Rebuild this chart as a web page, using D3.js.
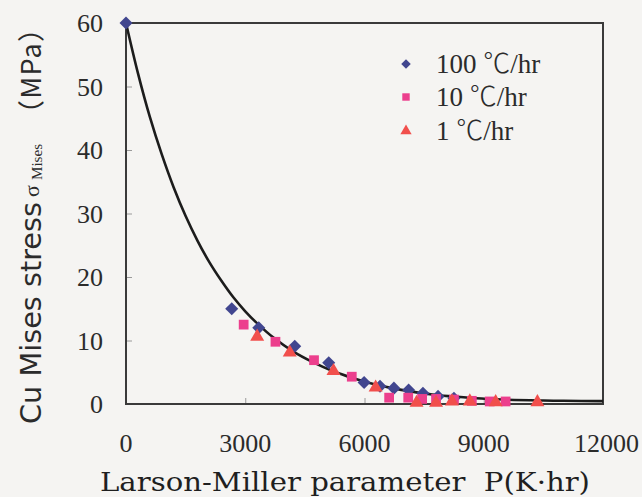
<!DOCTYPE html>
<html>
<head>
<meta charset="utf-8">
<script src="https://cdn.jsdelivr.net/npm/d3@7"></script>
<style>
  html, body { margin: 0; padding: 0; background: #f5f4f2; }
  svg { display: block; }
</style>
</head>
<body>
<svg id="chart" width="642" height="497"></svg>
<script>
// ---- data ----
const xTicks = [0, 3000, 6000, 9000, 12000];
const yTicks = [0, 10, 20, 30, 40, 50, 60];

const seriesRates = ["100", "10", "1"];
const rateUnit = "℃/hr";

const p100 = [0, 2660, 3340, 4245, 5100, 5990, 6390, 6740, 7110, 7470, 7850, 8250];
const s100 = [60, 15.0, 12.0, 9.1, 6.5, 3.4, 2.8, 2.5, 2.2, 1.7, 1.2, 0.9];

const p10 = [2960, 3760, 4730, 5680, 6620, 7100, 7450, 7800, 8250, 8700, 9150, 9550];
const s10 = [12.5, 9.8, 6.9, 4.3, 1.0, 1.0, 0.8, 0.8, 0.7, 0.5, 0.4, 0.4];

const p1 = [3300, 4120, 5220, 6280, 7310, 7800, 8200, 8650, 9300, 10350];
const s1 = [10.6, 8.1, 5.2, 2.6, 0.2, 0.2, 0.4, 0.4, 0.3, 0.3];

// master curve
const curveP = [0, 300, 600, 900, 1200, 1500, 1800, 2100, 2400, 2700, 3000, 3300, 3700, 4200, 4700, 5200, 5700, 6200, 6700, 7200, 7700, 8200, 8800, 9500, 10500, 11000, 12000];
const curveS = [60, 52.1, 45.2, 39.3, 34.1, 29.6, 25.7, 22.3, 19.4, 16.8, 14.6, 12.7, 10.5, 8.3, 6.6, 5.2, 4.1, 3.2, 2.5, 1.95, 1.5, 1.2, 0.9, 0.7, 0.55, 0.5, 0.45];

// ---- layout ----
const svg = d3.select("#chart");
const W = 642, H = 497;
const m = { left: 126, right: 39, top: 23, bottom: 93 };
const x = d3.scaleLinear().domain([0, 12000]).range([m.left, W - m.right]);
const y = d3.scaleLinear().domain([0, 60]).range([H - m.bottom, m.top]);

const textColor = "#2b2b2b";
const serif = "'Liberation Serif', 'DejaVu Serif', 'Noto Sans CJK JP', serif";
const cjk = "'Noto Sans CJK JP', 'Liberation Serif', serif";
const colors = ["#41468f", "#ec3f8d", "#f14f4c"];

svg.append("rect").attr("width", W).attr("height", H).attr("fill", "#f5f4f2");

// axes with inward ticks
const xAxis = d3.axisBottom(x).tickValues(xTicks).tickSize(-6).tickPadding(0).tickFormat("");
const yAxis = d3.axisLeft(y).tickValues(yTicks).tickSize(-6).tickPadding(0).tickFormat("");

const gx = svg.append("g").attr("transform", `translate(0,${y(0)})`).call(xAxis);
const gy = svg.append("g").attr("transform", `translate(${x(0)},0)`).call(yAxis);
[gx, gy].forEach(g => {
  g.select(".domain").remove();
  g.selectAll(".tick line").attr("stroke", "#9a9a9a").attr("stroke-width", 1);
});

// frame
svg.append("rect")
  .attr("x", x(0)).attr("y", y(60))
  .attr("width", x(12000) - x(0)).attr("height", y(0) - y(60))
  .attr("fill", "none").attr("stroke", "#3a3a3a").attr("stroke-width", 2);

// tick labels
svg.append("g").selectAll("text").data(xTicks).join("text")
  .attr("x", d => d === 12000 ? W - 3 : x(d))
  .attr("y", 452)
  .attr("text-anchor", d => d === 12000 ? "end" : "middle")
  .attr("font-family", serif).attr("font-size", 26).attr("fill", textColor)
  .text(d => d);

svg.append("g").selectAll("text").data(yTicks).join("text")
  .attr("x", 103)
  .attr("y", d => y(d) + 9)
  .attr("text-anchor", "end")
  .attr("font-family", serif).attr("font-size", 26).attr("fill", textColor)
  .text(d => d);

// axis titles
svg.append("text")
  .attr("x", 100).attr("y", 491)
  .attr("textLength", 490).attr("lengthAdjust", "spacingAndGlyphs")
  .attr("font-family", "'DejaVu Serif', serif").attr("font-size", 26).attr("fill", "#1f1f1f")
  .text("Larson-Miller parameter\u00a0\u00a0P(K·hr)");

const yt = svg.append("g").attr("transform", "translate(41,0) rotate(-90)").attr("fill", textColor);
yt.append("text").attr("x", -424).attr("y", 0)
  .attr("font-family", "'DejaVu Sans', sans-serif").attr("font-size", 29)
  .attr("textLength", 222).attr("lengthAdjust", "spacingAndGlyphs")
  .text("Cu Mises stress");
yt.append("text").attr("x", -197).attr("y", -2)
  .attr("font-family", serif).attr("font-size", 22).text("σ");
yt.append("text").attr("x", -180).attr("y", 1)
  .attr("font-family", serif).attr("font-size", 15)
  .attr("textLength", 36).attr("lengthAdjust", "spacingAndGlyphs")
  .text("Mises");
yt.append("text").attr("x", -127).attr("y", 0)
  .attr("font-family", cjk).attr("font-size", 27)
  .attr("textLength", 112).attr("lengthAdjust", "spacing")
  .text("（MPa）");

// curve
const line = d3.line().x(d => x(d[0])).y(d => y(d[1])).curve(d3.curveCatmullRom);
svg.append("path")
  .datum(d3.zip(curveP, curveS))
  .attr("d", line)
  .attr("fill", "none").attr("stroke", "#1c1c1c").attr("stroke-width", 2.6);

// markers
const sym = [d3.symbolSquare, d3.symbolSquare, d3.symbolTriangle];
const rot = [45, 0, 0];
const sizes = [85, 95, 85];
const sets = [d3.zip(p100, s100), d3.zip(p10, s10), d3.zip(p1, s1)];
sets.forEach((pts, i) => {
  svg.append("g").selectAll("path").data(pts).join("path")
    .attr("transform", d => `translate(${x(d[0])},${y(d[1])}) rotate(${rot[i]})`)
    .attr("d", d3.symbol().type(sym[i]).size(sizes[i]))
    .attr("fill", colors[i]);
});

// legend
const legY = [64, 97, 131];
const legSizes = [45, 55, 55];
const lg = svg.append("g");
seriesRates.forEach((rate, i) => {
  lg.append("path")
    .attr("transform", `translate(406,${legY[i]}) rotate(${rot[i]})`)
    .attr("d", d3.symbol().type(sym[i]).size(legSizes[i]))
    .attr("fill", colors[i]);
  const t = lg.append("text")
    .attr("x", 436).attr("y", legY[i] + 9)
    .attr("font-size", 27).attr("fill", textColor);
  t.append("tspan").attr("font-family", serif).text(rate + " ");
  t.append("tspan").attr("font-family", cjk).attr("font-weight", 300).text(rateUnit.slice(0, 1));
  t.append("tspan").attr("font-family", serif).text(rateUnit.slice(1));
});
</script>
</body>
</html>
